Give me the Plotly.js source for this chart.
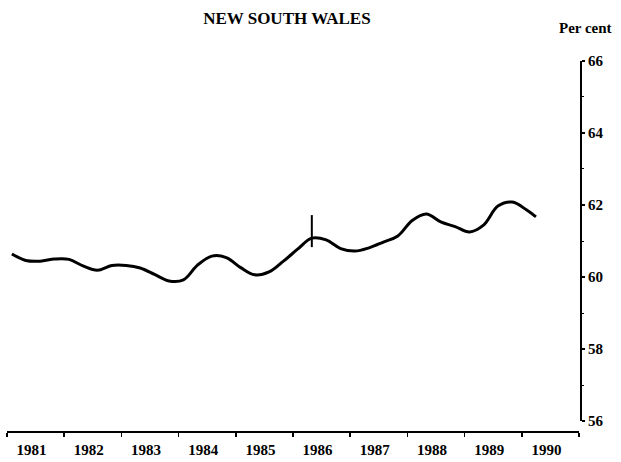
<!DOCTYPE html>
<html>
<head>
<meta charset="utf-8">
<script src="https://cdn.plot.ly/plotly-3.0.1.min.js"></script>
<style>html,body{margin:0;padding:0;background:#fff;}#chart{width:621px;height:462px;}</style>
</head>
<body>
<div id="chart"></div>
<script>
// Quarterly trend points (participation rate, per cent)
const months = [
  '1981-02-01','1981-05-01','1981-08-01','1981-11-01',
  '1982-02-01','1982-05-01','1982-08-01','1982-11-01',
  '1983-02-01','1983-05-01','1983-08-01','1983-11-01',
  '1984-02-01','1984-05-01','1984-08-01','1984-11-01',
  '1985-02-01','1985-05-01','1985-08-01','1985-11-01',
  '1986-02-01','1986-05-01','1986-08-01','1986-11-01',
  '1987-02-01','1987-05-01','1987-08-01','1987-11-01',
  '1988-02-01','1988-05-01','1988-08-01','1988-11-01',
  '1989-02-01','1989-05-01','1989-08-01','1989-11-01',
  '1990-02-01','1990-04-01'
];
const rate = [
  60.64, 60.46, 60.44, 60.50,
  60.49, 60.31, 60.19, 60.32,
  60.32, 60.25, 60.07, 59.89,
  59.92, 60.33, 60.58, 60.54,
  60.26, 60.06, 60.14, 60.44,
  60.78, 61.08, 61.03, 60.79,
  60.72, 60.81, 60.97, 61.14,
  61.57, 61.75, 61.53, 61.40,
  61.25, 61.44, 61.97, 62.08,
  61.86, 61.67
];
// Series break marker
const breakX = ['1986-05-01', '1986-05-01'];
const breakY = [60.83, 61.72];

const yTicks = [56, 58, 60, 62, 64, 66];
const titleText = 'NEW SOUTH WALES';
const unitText = 'Per cent';

const serif = '"Liberation Serif", "Times New Roman", serif';

const traces = [
  {
    x: months, y: rate, type: 'scatter', mode: 'lines',
    line: {color: '#000', width: 3, shape: 'spline', smoothing: 1},
    hoverinfo: 'skip', showlegend: false
  },
  {
    x: breakX, y: breakY, type: 'scatter', mode: 'lines',
    line: {color: '#000', width: 2}, hoverinfo: 'skip', showlegend: false
  }
];

const layout = {
  width: 621, height: 462,
  margin: {l: 0, r: 0, t: 0, b: 0},
  paper_bgcolor: '#fff', plot_bgcolor: '#fff',
  font: {family: serif, color: '#000', size: 15},
  showlegend: false,
  title: {
    text: '<b>' + titleText + '</b>',
    font: {family: serif, size: 17, color: '#000'},
    xref: 'paper', x: 0.462, xanchor: 'center',
    yref: 'container', y: 0.962, yanchor: 'middle'
  },
  xaxis: {
    type: 'date',
    domain: [0.0113, 0.9324],
    range: ['1981-01-01', '1991-01-01'],
    anchor: 'free', position: 0.065,
    showgrid: false, zeroline: false,
    showline: true, linecolor: '#000', linewidth: 2,
    ticks: 'outside', ticklen: 4, tickwidth: 1.5, tickcolor: '#000',
    tick0: '1981-01-01', dtick: 'M12',
    ticklabelmode: 'period', tickformat: '%Y',
    ticklabelshift: -4,
    tickfont: {family: serif, size: 15, color: '#000', weight: 'bold'},
    automargin: false, fixedrange: true
  },
  yaxis: {
    range: [56, 66],
    domain: [0.0887, 0.868],
    anchor: 'free', position: 0.9356, side: 'right',
    showgrid: false, zeroline: false,
    showline: true, linecolor: '#000', linewidth: 2,
    tickmode: 'array', tickvals: yTicks,
    ticks: 'outside', ticklen: 3, tickwidth: 1.5, tickcolor: '#000',
    minor: {dtick: 1, ticks: 'outside', ticklen: 2, tickcolor: '#000', tickwidth: 1},
    tickfont: {family: serif, size: 15, color: '#000', weight: 'bold'},
    automargin: false, fixedrange: true
  },
  annotations: [{
    text: '<b>' + unitText + '</b>',
    xref: 'paper', yref: 'paper', x: 0.943, y: 0.939,
    xanchor: 'center', yanchor: 'middle', showarrow: false,
    font: {family: serif, size: 15, color: '#000'}
  }]
};

Plotly.newPlot('chart', traces, layout, {staticPlot: true, displayModeBar: false});
</script>
</body>
</html>
